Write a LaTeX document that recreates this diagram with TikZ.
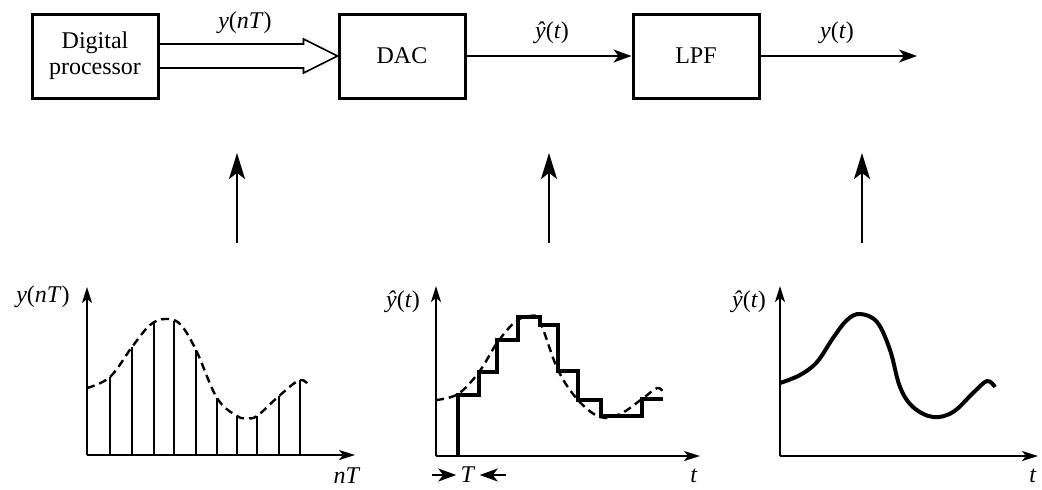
\documentclass[tikz,border=0pt]{standalone}
\usepackage{fontspec}
\setmainfont{Liberation Serif}
\usetikzlibrary{arrows.meta,calc}

\begin{document}
\begin{tikzpicture}[x=0.5pt, y=-0.5pt,
	every node/.style={font=\fontsize{12}{13}\selectfont},
	block/.style={draw, line width=1.5pt, minimum width=63pt, minimum height=42pt, align=center},
	sig/.style={line width=0.8pt, -{Stealth[length=9pt, width=6.5pt, inset=2.5pt]}},
	up/.style={line width=0.9pt, -{Stealth[length=13pt, width=8pt, inset=3pt]}},
	axis/.style={line width=1pt, -{Stealth[length=8pt, width=5pt, inset=2pt]}},
	guess/.style={dash pattern=on 4pt off 2.5pt, line width=1.2pt},
	stem/.style={line width=0.7pt}]
	\useasboundingbox (0,0) rectangle (1042,489);
	% chain
	\node[block] (dp) at (95,56) {Digital\\processor};
	\node[block] (dac) at (402,56) {DAC};
	\node[block] (lpf) at (696,56) {LPF};
	\coordinate (out) at (917,56);
	\draw[line width=0.8pt] ($(dp.east)+(0,-12)$) -- ($(dac.west)+(-34,-12)$) -- ++(0,-5) -- (dac.west)
		-- ($(dac.west)+(-34,17)$) -- ++(0,-5) -- ($(dp.east)+(0,12)$);
	\node (lynt) at (245,23) {\textit{y}(\textit{nT})};
	\draw[sig] (dac) -- (lpf);
	\node (lyh) at (552,33) {\textit{ŷ}(\textit{t})};
	\draw[sig] (lpf) -- (out);
	\node (lyt) at (837,33) {\textit{y}(\textit{t})};
	\foreach \x/\n in {237/a, 549/b, 862/c} {
		\coordinate (lo\n) at (\x,243);
		\coordinate (hi\n) at (\x,153);
		\draw[up] (lo\n) -- (hi\n);
	}
	% samples
	\coordinate (o1) at (87,455);
	\draw[axis] (o1) -- (87,287);
	\draw[axis] (o1) -- (355,455);
	\node (ya) at (43,297) {\textit{y}(\textit{nT})};
	\node (xa) at (347,476) {\textit{nT}};
	\foreach \x/\y in {87/388, 110/377, 132/347, 154/323, 174/321, 196/350, 217/398, 237/417, 257/416, 279/396, 300/380}
		\draw[stem] (\x,455) -- (\x,\y);
	\draw[guess] plot[smooth, tension=0.6] coordinates {(87,388) (110,377) (132,347) (150,325) (165,319) (180,324) (196,350) (217,398) (237,416) (247,418) (257,416) (279,396) (300,380) (310,387)};
	% staircase
	\coordinate (o2) at (436,456);
	\draw[axis] (o2) -- (436,286);
	\draw[axis] (o2) -- (700,456);
	\node (yb) at (403,302) {\textit{ŷ}(\textit{t})};
	\node (xb) at (694,476) {\textit{t}};
	\draw[guess] plot[smooth, tension=0.6] coordinates {(436,400) (458,394) (479,372) (497,343) (515,322) (530,316) (540,322) (558,370) (578,400) (600,417) (620,414) (642,399) (657,388) (663,392)};
	\draw[line width=1.6pt] (458,456) -- (458,395) -- (479,395) -- (479,372) -- (497,372) -- (497,340) -- (518,340) -- (518,317)
		-- (540,317) -- (540,325) -- (558,325) -- (558,371) -- (578,371) -- (578,400) -- (601,400) -- (601,416) -- (642,416)
		-- (642,399) -- (663,399);
	\node[inner sep=2pt] (Tm) at (468,475) {\textit{T}};
	\coordinate (Tl) at (432,475);
	\coordinate (Tr) at (506,475);
	\draw[sig] (Tl) -- (Tm.west);
	\draw[sig] (Tr) -- (Tm.east);
	% filtered
	\coordinate (o3) at (780,456);
	\draw[axis] (o3) -- (780,286);
	\draw[axis] (o3) -- (1038,456);
	\node (yc) at (749,302) {\textit{ŷ}(\textit{t})};
	\node (xc) at (1033,476) {\textit{t}};
	\draw[line width=2pt] plot[smooth, tension=0.6] coordinates {(780,383) (800,375) (817,362) (833,338) (847,320) (860,314) (877,322) (890,350) (900,387) (913,407) (933,417) (953,412) (973,393) (987,381) (995,387)};
\end{tikzpicture}
\end{document}
